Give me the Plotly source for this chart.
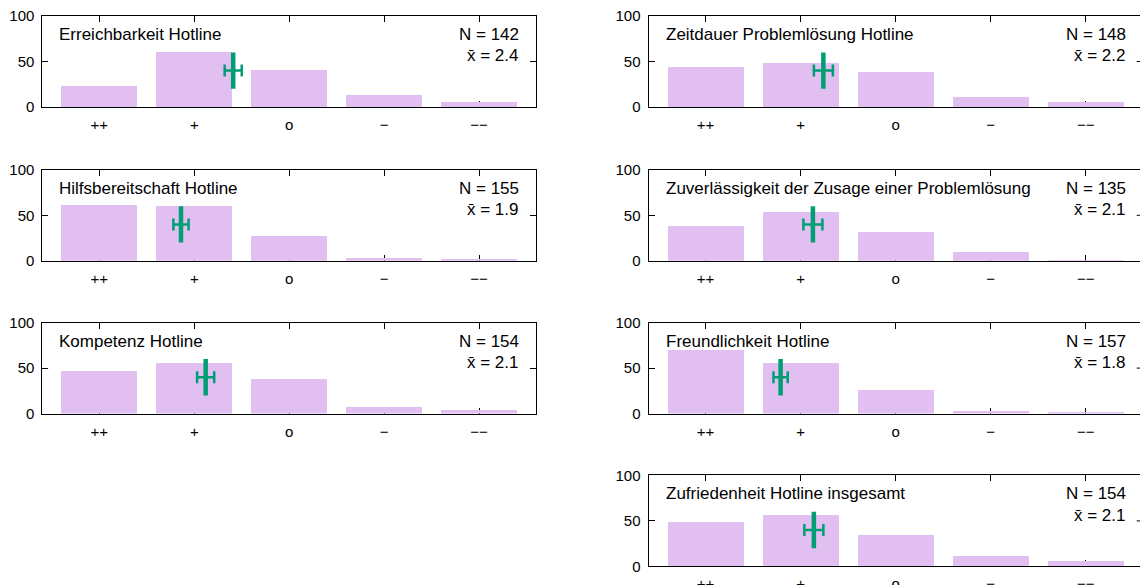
import plotly.graph_objects as go

# --- data -------------------------------------------------------------
categories = ["++", "+", "o", "−", "−−"]

titles = [
    "Erreichbarkeit Hotline",
    "Zeitdauer Problemlösung Hotline",
    "Hilfsbereitschaft Hotline",
    "Zuverlässigkeit der Zusage einer Problemlösung",
    "Kompetenz Hotline",
    "Freundlichkeit Hotline",
    "Zufriedenheit Hotline insgesamt",
]

erreichbarkeit = [23, 60, 41, 13, 5]
zeitdauer = [44, 48, 39, 11, 6]
hilfsbereitschaft = [62, 60, 28, 3, 2]
zuverlaessigkeit = [38, 54, 32, 10, 1]
kompetenz = [47, 56, 39, 8, 4]
freundlichkeit = [70, 56, 26, 3, 2]
zufriedenheit = [48, 56, 34, 11, 5]

counts = [erreichbarkeit, zeitdauer, hilfsbereitschaft, zuverlaessigkeit,
          kompetenz, freundlichkeit, zufriedenheit]
n_values = [142, 148, 155, 135, 154, 157, 154]
means = [2.41, 2.24, 1.86, 2.13, 2.12, 1.79, 2.14]
mean_err = [0.09, 0.10, 0.08, 0.10, 0.09, 0.075, 0.10]

# grid slot (row, col) of each panel
slots = [(0, 0), (0, 1), (1, 0), (1, 1), (2, 0), (2, 1), (3, 1)]

# --- style / geometry -------------------------------------------------
W, H = 1140, 585
BAR = "#e2bff1"
GREEN = "#009e73"
FONT = "Liberation Sans"
COL_X = [(42.4, 536.0), (648.5, 1142.7)]      # plot frame left/right in px
ROW_TOP = [16.0, 169.8, 322.6, 475.4]          # plot frame top in px
ROW_H = 91.0
X_LO, X_HI = 0.4, 5.6
MEAN_Y, MEAN_HALF = 40, 20                     # vertical placement of mean marker

fig = go.Figure()
xs = list(range(1, len(categories) + 1))

for k, (title, cnt, n, m, e, (r, c)) in enumerate(
        zip(titles, counts, n_values, means, mean_err, slots), start=1):
    xa = "x" if k == 1 else f"x{k}"
    ya = "y" if k == 1 else f"y{k}"
    px0, px1 = COL_X[c]
    upx = (X_HI - X_LO) / (px1 - px0)
    vis1 = min(px1, W)
    x_hi = X_LO + (vis1 - px0) * upx
    top = ROW_TOP[r]
    bot = top + ROW_H

    fig.add_trace(go.Bar(x=xs, y=cnt, width=0.8, marker=dict(color=BAR, line_width=0),
                         xaxis=xa, yaxis=ya, showlegend=False))
    fig.add_trace(go.Scatter(
        x=[m], y=[MEAN_Y], mode="markers", marker=dict(size=1, color=GREEN, opacity=0),
        error_y=dict(type="constant", value=MEAN_HALF, thickness=4.5, width=0, color=GREEN),
        error_x=dict(type="constant", value=e, thickness=2.5, width=6, color=GREEN),
        xaxis=xa, yaxis=ya, showlegend=False))

    axis_font = dict(family=FONT, size=15, color="black")
    fig.layout[("xaxis" if k == 1 else f"xaxis{k}")] = dict(
        domain=[px0 / W, vis1 / W], range=[X_LO, x_hi], anchor=ya, automargin=False,
        tickvals=xs, ticktext=categories, ticks="inside", ticklen=6, tickcolor="black",
        showline=True, linecolor="black", linewidth=1, mirror="ticks",
        showgrid=False, zeroline=False, tickfont=axis_font, ticklabelstandoff=4,
        layer="below traces", fixedrange=True)
    fig.layout[("yaxis" if k == 1 else f"yaxis{k}")] = dict(
        domain=[1 - bot / H, 1 - top / H], range=[0, 100], anchor=xa, automargin=False,
        tickvals=[0, 50, 100], ticks="inside", ticklen=6, tickcolor="black",
        showline=True, linecolor="black", linewidth=1,
        mirror="ticks" if px1 <= W else False,
        showgrid=False, zeroline=False, tickfont=axis_font, ticklabelstandoff=4,
        layer="below traces", fixedrange=True)

    if px1 > W:
        # right-hand tick at 50 for a frame running past the page edge
        fig.add_shape(type="line", xref="paper", yref=ya,
                      x0=(px1 - 6) / W, x1=1.0, y0=50, y1=50,
                      line=dict(color="black", width=1))

    txt = dict(family=FONT, size=17, color="black")
    fig.add_annotation(text=title, xref="paper", yref="paper",
                       x=(px0 + 15) / W, y=1 - (top + 18.5) / H,
                       xanchor="left", yanchor="middle", showarrow=False, font=txt)
    fig.add_annotation(text=f"N = {n}", xref="paper", yref="paper",
                       x=(px1 - 15) / W, y=1 - (top + 18.5) / H,
                       xanchor="right", yanchor="middle", showarrow=False, font=txt)
    fig.add_annotation(text=f"x̄ = {m:.1f}", xref="paper", yref="paper",
                       x=(px1 - 15) / W, y=1 - (top + 40) / H,
                       xanchor="right", yanchor="middle", showarrow=False, font=txt)

fig.update_layout(width=W, height=H, margin=dict(l=0, r=0, t=0, b=0, autoexpand=False),
                  paper_bgcolor="white", plot_bgcolor="white", bargap=0)
fig.write_html("out.html")
